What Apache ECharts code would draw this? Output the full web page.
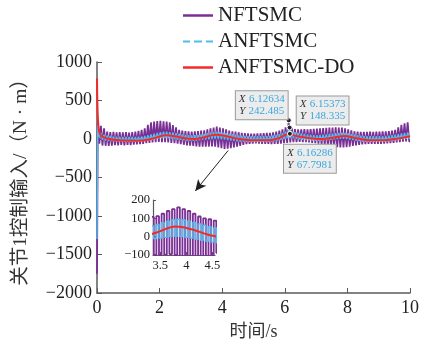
<!DOCTYPE html>
<html>
<head>
<meta charset="utf-8">
<script src="https://cdn.jsdelivr.net/npm/echarts@6/dist/echarts.min.js"></script>
<style>
  html, body { margin: 0; padding: 0; background: #fff; }
  #chart { width: 422px; height: 346px; }
</style>
</head>
<body>
<div id="chart"></div>
<script>
// sample step of the chattering signals (s)
const dt = 0.05;

// NFTSMC control input, one value per sample (chattering band)
const nftsmc = [
  -1750, 230, -60, 170, -85, 140, -88, 95, -90, 88,
  -85, 92, -80, 86, -84, 90, -78, 85, -82, 88,
  -75, 84, -80, 90, -72, 95, -70, 105, -68, 120,
  -65, 140, -55, 185, -50, 215, -45, 228, -40, 232,
  -38, 235, -40, 230, -42, 225, -45, 215, -50, 180,
  -55, 150, -60, 120, -68, 108, -75, 102, -82, 98,
  -88, 96, -90, 100, -95, 102, -98, 108, -100, 112,
  -100, 125, -98, 140, -95, 150, -100, 160, -110, 150,
  -120, 140, -128, 125, -125, 110, -118, 100, -110, 95,
  -100, 88, -88, 80, -75, 76, -68, 72, -62, 70,
  -60, 70, -58, 72, -60, 74, -62, 75, -62, 78,
  -64, 80, -65, 85, -64, 95, -62, 110, -60, 125,
  -55, 150, -50, 242, -45, 140, -42, 128, -40, 125,
  -38, 126, -40, 128, -42, 125, -45, 130, -50, 132,
  -55, 135, -60, 138, -68, 142, -78, 145, -88, 148,
  -95, 150, -100, 152, -105, 150, -108, 148, -110, 140,
  -105, 125, -98, 112, -90, 100, -82, 95, -75, 92,
  -70, 92, -66, 94, -64, 95, -64, 94, -65, 96,
  -64, 95, -62, 98, -60, 100, -58, 102, -55, 108,
  -50, 120, -45, 150, -40, 185, -35, 205, -32, 215,
  -30
];

// ANFTSMC control input, one value per sample
const anftsmc = [
  -1300, 180, 20, 80, -10, 55, -20, 45, -25, 38,
  -28, 32, -30, 30, -32, 28, -34, 28, -35, 26,
  -36, 27, -36, 26, -37, 27, -36, 30, -34, 34,
  -30, 40, -25, 48, -18, 58, -10, 70, -2, 80,
  5, 90, 10, 95, 12, 95, 10, 90, 6, 84,
  0, 76, -6, 68, -12, 60, -18, 52, -22, 48,
  -25, 46, -25, 48, -22, 52, -18, 58, -12, 66,
  -8, 76, -4, 85, 0, 92, 2, 95, 0, 92,
  -4, 86, -8, 78, -14, 70, -20, 62, -25, 55,
  -30, 48, -33, 44, -35, 40, -37, 38, -38, 36,
  -40, 35, -40, 35, -40, 36, -39, 37, -38, 38,
  -36, 40, -33, 45, -28, 52, -20, 62, -10, 75,
  0, 95, 10, 148, 12, 100, 8, 90, 2, 82,
  -4, 74, -10, 66, -15, 60, -20, 55, -22, 52,
  -24, 50, -24, 52, -22, 55, -18, 60, -14, 65,
  -10, 70, -5, 76, 0, 80, 2, 82, 2, 80,
  -2, 74, -8, 66, -15, 58, -22, 50, -28, 44,
  -32, 40, -35, 37, -37, 36, -38, 35, -38, 35,
  -38, 36, -37, 37, -35, 40, -32, 44, -28, 50,
  -22, 56, -16, 64, -10, 72, -4, 80, 2, 86,
  6
];

// ANFTSMC-DO control input (smooth)
const doTime = [0, 0.02, 0.05, 0.1, 0.2, 0.4, 0.7, 1.0, 1.3, 1.6, 1.9, 2.2, 2.5, 2.8, 3.1, 3.4,
  3.8, 4.1, 4.5, 5.0, 5.5, 5.8, 6.1, 6.4, 6.8, 7.1, 7.5, 7.9, 8.3, 8.7, 9.2, 9.6, 10];
const anftsmcDo = [785, 350, 150, 60, 25, 0, -15, -20, -22, -10, 20, 48, 35, 10, 0, 20,
  55, 40, 5, -15, -15, 10, 62, 35, 10, 0, 15, 40, 10, -15, -15, 5, 35];

// data tips
const tipX = [6.12634, 6.15373, 6.16286];
const tipY = [242.485, 148.335, 67.7981];

// arrow from the band to the zoomed inset
const arrowFrom = [4.19, -150];
const arrowTo = [3.14, -675];

const insetTicks = [3.5, 4, 4.5];

const names = ['NFTSMC', 'ANFTSMC', 'ANFTSMC-DO'];
const colors = ['#7a2f94', '#4dbeee', '#f42a2a'];

const serif = '"Liberation Serif", "Noto Sans CJK SC", serif';
const axisGray = '#5a5a5a';
const minus = v => String(v).replace('-', '\u2212');

const sampled = vals => vals.map((v, i) => [+(i * dt).toFixed(2), v]);
const nftsmcData = sampled(nftsmc);
const anftsmcData = sampled(anftsmc);
const doData = doTime.map((t, i) => [t, anftsmcDo[i]]);

function tip(i, offset) {
  return {
    coord: [tipX[i], tipY[i]],
    label: {
      show: true,
      offset: offset,
      formatter: '{k|X} {v|' + tipX[i] + '}\n{k|Y} {v|' + tipY[i] + '}',
      backgroundColor: '#ececec',
      borderColor: '#9a9a9a',
      borderWidth: 1,
      padding: [2, 3],
      lineHeight: 12,
      rich: {
        k: { fontFamily: serif, fontStyle: 'italic', fontSize: 11, color: '#333', lineHeight: 12 },
        v: { fontFamily: serif, fontSize: 11, color: '#3aa6dc', lineHeight: 12 }
      }
    }
  };
}

const markStyle = {
  symbol: 'circle',
  symbolSize: 5,
  itemStyle: { color: '#222', borderColor: '#fff', borderWidth: 1 }
};

// the dashed style of ANFTSMC only shows in the legend; the dense band itself reads solid
const dashIcon = 'path://M0,0h7v2h-7zM11,0h8v2h-8zM23,0h7v2h-7z';

const chart = echarts.init(document.getElementById('chart'));

const option = {
  animation: false,
  backgroundColor: '#fff',
  color: colors,
  legend: {
    data: [
      { name: names[0], icon: 'rect' },
      { name: names[1], icon: dashIcon },
      { name: names[2], icon: 'rect' }
    ],
    orient: 'vertical',
    left: 178,
    top: 0,
    itemWidth: 30,
    itemHeight: 2.5,
    itemGap: 5,
    textStyle: { fontFamily: serif, fontSize: 21, lineHeight: 21, color: '#222' }
  },
  grid: [
    { left: 97, right: 10, top: 62, bottom: 48 },
    { left: 153, top: 200, width: 62, height: 55 }
  ],
  xAxis: [
    {
      type: 'value', min: 0, max: 10, interval: 2,
      name: '时间/s', nameLocation: 'middle', nameGap: 30,
      nameTextStyle: { fontFamily: serif, fontSize: 18, color: '#333' },
      axisLine: { onZero: false, lineStyle: { color: axisGray, width: 1.5 } },
      axisTick: { inside: true, length: 5, lineStyle: { color: axisGray } },
      axisLabel: { fontFamily: serif, fontSize: 18, color: '#222', margin: 6 },
      splitLine: { show: false }
    },
    {
      type: 'value', gridIndex: 1, min: 3.36, max: 4.55,
      axisLine: { onZero: false, lineStyle: { color: axisGray, width: 1.2 } },
      axisTick: { inside: true, length: 3, customValues: insetTicks, lineStyle: { color: axisGray } },
      axisLabel: { fontFamily: serif, fontSize: 12.5, color: '#222', margin: 4, customValues: insetTicks },
      splitLine: { show: false }
    }
  ],
  yAxis: [
    {
      type: 'value', min: -2000, max: 1000, interval: 500,
      name: '关节1控制输入/（N · m）', nameLocation: 'middle', nameGap: 66, nameRotate: 90,
      nameTextStyle: { fontFamily: serif, fontSize: 19.5, color: '#333' },
      axisLine: { show: true, onZero: false, lineStyle: { color: axisGray, width: 1.5 } },
      axisTick: { show: true, inside: true, length: 5, lineStyle: { color: axisGray } },
      axisLabel: { fontFamily: serif, fontSize: 18, color: '#222', margin: 5, formatter: minus },
      splitLine: { show: false }
    },
    {
      type: 'value', gridIndex: 1, min: -100, max: 200, interval: 100,
      axisLine: { show: true, onZero: false, lineStyle: { color: axisGray, width: 1.2 } },
      axisTick: { show: true, inside: true, length: 3, lineStyle: { color: axisGray } },
      axisLabel: { fontFamily: serif, fontSize: 12.5, color: '#222', margin: 3, formatter: minus },
      splitLine: { show: false }
    }
  ],
  series: [
    {
      name: names[0], type: 'line', data: nftsmcData, symbol: 'none', step: 'middle',
      lineStyle: { color: colors[0], width: 1.8 },
      markPoint: Object.assign({ data: [tip(0, [-27, -15])] }, markStyle),
      markLine: {
        silent: true,
        symbol: ['none', 'arrow'],
        symbolSize: [8, 11],
        lineStyle: { color: '#222', width: 1, type: 'solid' },
        label: { show: false },
        data: [[{ coord: arrowFrom }, { coord: arrowTo }]]
      }
    },
    {
      name: names[1], type: 'line', data: anftsmcData, symbol: 'none', step: 'middle',
      lineStyle: { color: colors[1], width: 1.4 },
      markPoint: Object.assign({ data: [tip(1, [33, -17])] }, markStyle)
    },
    {
      name: names[2], type: 'line', data: doData, symbol: 'none', smooth: 0.35,
      lineStyle: { color: colors[2], width: 2 },
      markPoint: Object.assign({ data: [tip(2, [20, 25])] }, markStyle)
    },
    {
      name: names[0], type: 'line', xAxisIndex: 1, yAxisIndex: 1, data: nftsmcData,
      symbol: 'none', step: 'middle', lineStyle: { color: colors[0], width: 1.8 }
    },
    {
      name: names[1], type: 'line', xAxisIndex: 1, yAxisIndex: 1, data: anftsmcData,
      symbol: 'none', step: 'middle', lineStyle: { color: colors[1], width: 1.4 }
    },
    {
      name: names[2], type: 'line', xAxisIndex: 1, yAxisIndex: 1, data: doData,
      symbol: 'none', smooth: 0.35, lineStyle: { color: colors[2], width: 2 }
    }
  ]
};

chart.setOption(option);
</script>
</body>
</html>
